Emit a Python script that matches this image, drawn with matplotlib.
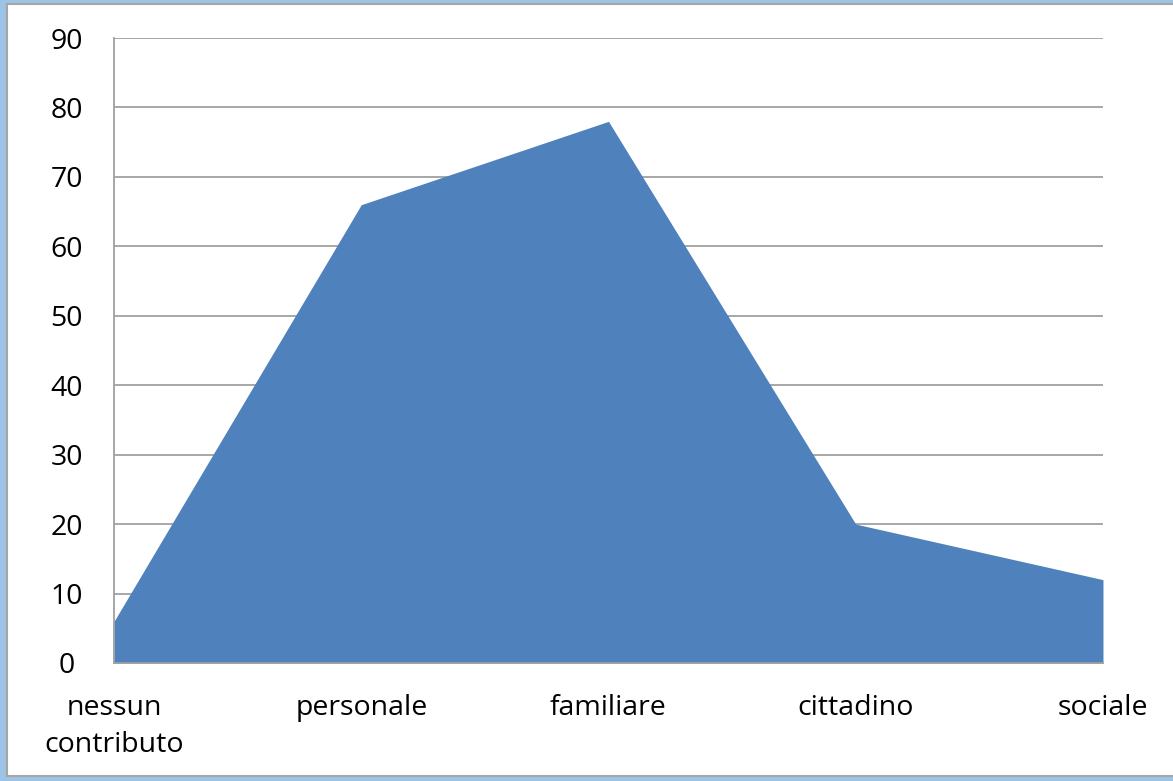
import matplotlib
matplotlib.use('Agg')
import matplotlib.pyplot as plt
from matplotlib.patches import Rectangle

plt.rcParams['font.family'] = ['Open Sans', 'DejaVu Sans']

# dati
categorie = ['nessun\ncontributo', 'personale', 'familiare', 'cittadino', 'sociale']
valori = [6, 66, 78, 20, 12]
yticks = [0, 10, 20, 30, 40, 50, 60, 70, 80, 90]

fig = plt.figure(figsize=(11.73, 7.81), dpi=100)
fig.patch.set_facecolor('#9DC3E6')
# cornice bianca
cornice = Rectangle((0.006, 0.006), 1.0, 0.989, transform=fig.transFigure,
                    facecolor='white', edgecolor='#A6A6A6', linewidth=1.5)
cornice.set_zorder(-5)
fig.add_artist(cornice)

ax = fig.add_axes([0.0972, 0.1511, 0.8431, 0.8002])
ax.set_zorder(2)
ax.set_facecolor('none')
x = list(range(len(categorie)))
ax.fill_between(x, 0, valori, color='#4F81BD', linewidth=0, zorder=2)

ax.set_xlim(0, len(categorie) - 1)
ax.set_ylim(0, 90)
ax.set_yticks(yticks)
ax.set_xticks(x)
ax.set_xticklabels(categorie, fontsize=20.5, linespacing=1.45)
ax.tick_params(axis='y', labelsize=20.5, length=0, pad=34)
ax.tick_params(axis='x', length=0, pad=22)
for lab in ax.get_yticklabels():
    lab.set_horizontalalignment('center')

ax.grid(axis='y', color='#A0A0A0', linewidth=1.3, zorder=1)
ax.set_axisbelow(True)
for s in ['top', 'right']:
    ax.spines[s].set_visible(False)
ax.spines['left'].set_color('#A0A0A0')
ax.spines['bottom'].set_color('#A0A0A0')
ax.spines['left'].set_linewidth(1.3)
ax.spines['bottom'].set_linewidth(1.3)

plt.savefig('out.png', dpi=100, facecolor=fig.get_facecolor())
